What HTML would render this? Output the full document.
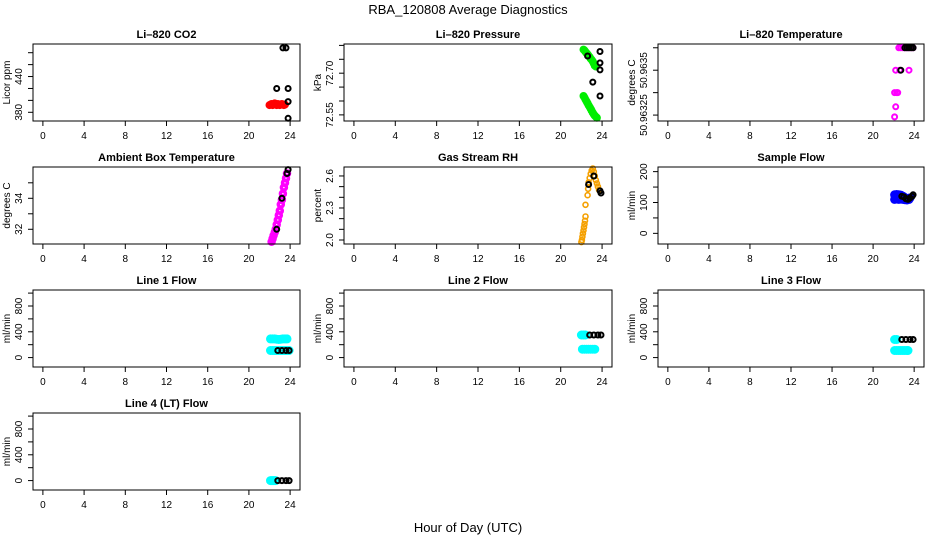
<!DOCTYPE html>
<html><head><meta charset="utf-8"><style>
html,body{margin:0;padding:0;background:#fff;}
svg{display:block;font-family:"Liberation Sans",sans-serif;}
</style></head>
<body>
<svg id="c" width="936" height="540" viewBox="0 0 936 540" xmlns="http://www.w3.org/2000/svg">
<rect width="936" height="540" fill="#fff"/>
<text x="468" y="14" font-size="13" text-anchor="middle">RBA_120808  Average Diagnostics</text>
<text x="468" y="532" font-size="13" text-anchor="middle">Hour of Day (UTC)</text>
</svg>
<script>
// ---- data ----
const xTicks = [0,4,8,12,16,20,24];
const co2RedH = [22.0,22.1,22.2,22.3,22.4,22.5,22.6,22.7,22.8,22.9,23.0,23.1,23.2,23.3,23.4,23.5];
const co2RedV = [392,393,394,392,393,395,393,392,394,393,392,393,394,393,392,393];
const co2BlkH = [23.3,23.6,22.7,23.8,23.8,23.8];
const co2BlkV = [488,488,420,420,398,370];
const presGrnH = [22.2,22.3,22.4,22.5,22.6,22.7,22.8,22.9,23.0,23.1,23.2,23.3,23.4,22.2,22.3,22.4,22.5,22.6,22.7,22.8,22.9,23.0,23.1,23.2,23.3,23.4,23.5];
const presGrnV = [72.785,72.782,72.777,72.772,72.768,72.763,72.758,72.752,72.748,72.742,72.735,72.727,72.724,72.618,72.612,72.605,72.598,72.592,72.585,72.578,72.572,72.565,72.558,72.552,72.547,72.543,72.540];
const presBlkH = [23.8,22.6,23.8,23.8,23.1,23.8];
const presBlkV = [72.778,72.762,72.737,72.712,72.668,72.618];
const tempMagH = [22.5,22.7,22.9,23.1,23.3,23.5,23.7,23.9,22.2,22.6,23.5,22.1,22.3,22.4,22.2,22.1];
const tempMagV = [50.963625,50.963625,50.963625,50.963625,50.963625,50.963625,50.963625,50.963625,50.9635,50.9635,50.9635,50.963375,50.963375,50.963375,50.963296,50.96324];
const tempBlkH = [23.1,23.3,23.5,23.7,23.9,22.7];
const tempBlkV = [50.963625,50.963625,50.963625,50.963625,50.963625,50.9635];
const ambMagH = [22.2,22.3,22.4,22.5,22.6,22.7,22.8,22.9,23.0,23.1,23.2,23.3,23.4,23.5,23.6,23.7];
const ambMagV = [31.2,31.4,31.6,31.8,32.0,32.3,32.6,32.9,33.2,33.6,33.9,34.3,34.7,35.0,35.3,35.6];
const ambBlkH = [22.7,23.2,23.7,23.8];
const ambBlkV = [32.0,34.0,35.6,35.85];
const rhOrgH = [22.0,22.05,22.1,22.15,22.2,22.25,22.3,22.35,22.4,22.4,22.6,22.65,22.7,22.8,22.9,23.0,23.1,23.2,23.3,23.4,23.5,23.6,23.7];
const rhOrgV = [1.98,2.0,2.03,2.06,2.09,2.12,2.15,2.18,2.22,2.33,2.42,2.48,2.54,2.58,2.62,2.65,2.67,2.64,2.6,2.56,2.53,2.5,2.47];
const rhBlkH = [22.7,23.2,23.8,23.9];
const rhBlkV = [2.52,2.6,2.46,2.44];
const sfBluH = [22.1,22.2,22.3,22.4,22.5,22.6,22.7,22.8,22.9,23.0,23.1,23.2,23.3,23.4,23.5,23.6,22.1,22.3,22.5,22.7,22.9,23.1,23.3,23.5];
const sfBluV = [125,122,126,124,125,123,124,122,120,118,116,114,112,110,112,115,110,112,110,111,110,109,108,110];
const sfBlkH = [22.8,23.0,23.2,23.4,23.6,23.8,23.9];
const sfBlkV = [120,118,112,110,115,120,125];
const l1CyanH = [22.1,22.3,22.5,22.7,22.9,23.1,23.3,23.5,23.7,22.1,22.3,22.5,22.7,22.9,23.1,23.3,23.5,23.7,23.9];
const l1CyanV = [290,290,290,285,280,285,290,290,290,110,110,110,110,110,110,110,110,110,110];
const l1BlkH = [22.8,23.2,23.6,23.9];
const l1BlkV = [110,110,110,110];
const l2CyanH = [22.0,22.2,22.4,22.1,22.3,22.5,22.7,22.9,23.1,23.3];
const l2CyanV = [350,350,350,130,130,130,130,130,130,130];
const l2BlkH = [22.8,23.2,23.6,23.9];
const l2BlkV = [350,350,350,350];
const l3CyanH = [22.1,22.3,22.1,22.3,22.5,22.7,22.9,23.1,23.3,23.4];
const l3CyanV = [280,280,110,110,110,110,110,110,110,110];
const l3BlkH = [22.8,23.2,23.6,23.9];
const l3BlkV = [280,280,280,280];
const l4CyanH = [22.1,22.2,22.3,22.4,22.5,22.6];
const l4CyanV = [0,0,0,0,0,0];
const l4BlkH = [22.8,23.2,23.6,23.9];
const l4BlkV = [0,0,0,0];
const flowTicks = [0,200,400,600,800,1000];
const flowLabels = [0,400,800];

const NS = "http://www.w3.org/2000/svg";
const svg = document.getElementById('c');
const cols = [[33,300],[344,612],[658,924]];
const rows = [[44,121],[167,244],[290,367],[413,490]];
function mk(tag, attrs, parent){
  const e = document.createElementNS(NS, tag);
  for (const k in attrs) e.setAttribute(k, attrs[k]);
  (parent||svg).appendChild(e);
  return e;
}
function panel(name, title, ylab, col, row, yDom, yTicks, yLabs, series){
  const [x0,x1] = cols[col], [y0,y1] = rows[row];
  const g = mk('g', {});
  
  
  const xs = h => x0 + (h + 0.96) / 25.92 * (x1 - x0);
  const ys = v => y1 - (v - yDom[0]) / (yDom[1] - yDom[0]) * (y1 - y0);
  // series
  series.forEach(s => {
    s.h.forEach((h, i) => {
      const c = mk('circle', {cx: xs(h).toFixed(1), cy: ys(s.v[i]).toFixed(1), r: 2.5, fill: 'none', stroke: s.c, 'stroke-width': s.w || 1.6}, g);
      
      
    });
  });
  const box = mk('rect', {x: x0, y: y0, width: x1 - x0, height: y1 - y0, fill: 'none', stroke: '#000', 'stroke-width': 1}, g);
  
  
  const t = mk('text', {x: (x0 + x1) / 2, y: y0 - 6, 'font-size': 11, 'font-weight': 'bold', 'text-anchor': 'middle'}, g);
  t.textContent = title;
  
  
  // x axis
  mk('line', {x1: xs(xTicks[0]), x2: xs(xTicks[xTicks.length-1]), y1: y1, y2: y1, stroke: '#000'}, g);
  xTicks.forEach(v => {
    mk('line', {x1: xs(v), x2: xs(v), y1: y1, y2: y1 + 5, stroke: '#000'}, g);
    const l = mk('text', {x: xs(v), y: y1 + 18, 'font-size': 10, 'text-anchor': 'middle'}, g);
    l.textContent = v;
    
    
  });
  // y axis
  mk('line', {x1: x0, x2: x0, y1: ys(yTicks[0]), y2: ys(yTicks[yTicks.length-1]), stroke: '#000'}, g);
  yTicks.forEach(v => mk('line', {x1: x0 - 5, x2: x0, y1: ys(v), y2: ys(v), stroke: '#000'}, g));
  yLabs.forEach(lab => {
    const yy = ys(lab.v), xx = x0 - 11;
    const l = mk('text', {x: xx, y: yy, 'font-size': 10, 'text-anchor': 'middle', transform: `rotate(-90 ${xx} ${yy})`}, g);
    l.textContent = lab.t;
    
    
  });
  const yc = (y0 + y1) / 2, xc = x0 - 23;
  const yt = mk('text', {x: xc, y: yc, 'font-size': 10, 'text-anchor': 'middle', transform: `rotate(-90 ${xc} ${yc})`}, g);
  yt.textContent = ylab;
  
  
}
const blk = (h, v) => ({h, v, c: '#000', n: 'average', w: 2});
const fl = flowLabels.map(v => ({v, t: String(v)}));
panel('co2', 'Li\u2013820 CO2', 'Licor ppm', 0, 0, [365.4, 494.6], [380,400,420,440,460,480],
  [{v:380,t:'380'},{v:440,t:'440'}],
  [{h: co2RedH, v: co2RedV, c: '#ff0000', n: 'co2', w: 3}, blk(co2BlkH, co2BlkV)]);
panel('pressure', 'Li\u2013820 Pressure', 'kPa', 1, 0, [72.528, 72.805], [72.55,72.60,72.65,72.70,72.75,72.80],
  [{v:72.55,t:'72.55'},{v:72.70,t:'72.70'}],
  [{h: presGrnH, v: presGrnV, c: '#00ee00', n: 'pressure', w: 3}, blk(presBlkH, presBlkV)]);
panel('li820-temp', 'Li\u2013820 Temperature', 'degrees C', 2, 0, [50.963217, 50.963646], [50.96325,50.963375,50.9635,50.963625],
  [{v:50.96325,t:'50.96325'},{v:50.9635,t:'50.9635'}],
  [{h: tempMagH, v: tempMagV, c: '#ff00ff', n: 'temperature', w: 2}, blk(tempBlkH, tempBlkV)]);
panel('ambient-temp', 'Ambient Box Temperature', 'degrees C', 0, 1, [31.05, 36.02], [32,33,34,35],
  [{v:32,t:'32'},{v:34,t:'34'}],
  [{h: ambMagH, v: ambMagV, c: '#ff00ff', n: 'ambient', w: 3.5}, blk(ambBlkH, ambBlkV)]);
panel('rh', 'Gas Stream RH', 'percent', 1, 1, [1.9625, 2.684], [2.0,2.1,2.2,2.3,2.4,2.5,2.6],
  [{v:2.0,t:'2.0'},{v:2.3,t:'2.3'},{v:2.6,t:'2.6'}],
  [{h: rhOrgH, v: rhOrgV, c: '#f5a000', n: 'rh', w: 1.6}, blk(rhBlkH, rhBlkV)]);
panel('sample-flow', 'Sample Flow', 'ml/min', 2, 1, [-34.5, 215], [0,50,100,150,200],
  [{v:0,t:'0'},{v:100,t:'100'},{v:200,t:'200'}],
  [{h: sfBluH, v: sfBluV, c: '#0000ff', n: 'sample-flow', w: 4}, blk(sfBlkH, sfBlkV)]);
panel('line1', 'Line 1 Flow', 'ml/min', 0, 2, [-146, 1048], flowTicks, fl,
  [{h: l1CyanH, v: l1CyanV, c: '#00ffff', n: 'line1', w: 4}, blk(l1BlkH, l1BlkV)]);
panel('line2', 'Line 2 Flow', 'ml/min', 1, 2, [-146, 1048], flowTicks, fl,
  [{h: l2CyanH, v: l2CyanV, c: '#00ffff', n: 'line2', w: 4}, blk(l2BlkH, l2BlkV)]);
panel('line3', 'Line 3 Flow', 'ml/min', 2, 2, [-146, 1048], flowTicks, fl,
  [{h: l3CyanH, v: l3CyanV, c: '#00ffff', n: 'line3', w: 4}, blk(l3BlkH, l3BlkV)]);
panel('line4', 'Line 4 (LT) Flow', 'ml/min', 0, 3, [-146, 1048], flowTicks, fl,
  [{h: l4CyanH, v: l4CyanV, c: '#00ffff', n: 'line4', w: 4}, blk(l4BlkH, l4BlkV)]);
</script>
</body></html>
